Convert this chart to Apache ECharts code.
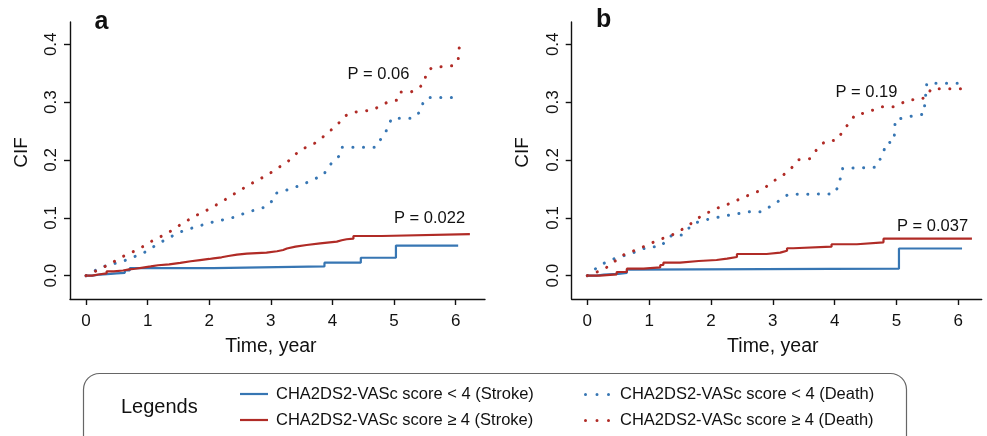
<!DOCTYPE html>
<html>
<head>
<meta charset="utf-8">
<script src="https://cdn.jsdelivr.net/npm/echarts@6/dist/echarts.min.js"></script>
<style>
html,body{margin:0;padding:0;background:#fff;}
#chart{width:987px;height:436px;}
</style>
</head>
<body>
<div id="chart"></div>
<script>
// ---------- data (time in years, CIF) ----------
const xTicks = [0, 1, 2, 3, 4, 5, 6];
const yTicks = [0, 0.1, 0.2, 0.3, 0.4];
const seriesNames = [
  'CHA2DS2-VASc score < 4 (Stroke)',
  'CHA2DS2-VASc score \u2265 4 (Stroke)',
  'CHA2DS2-VASc score < 4 (Death)',
  'CHA2DS2-VASc score \u2265 4 (Death)'
];
const panelLabels = ['a', 'b'];
const pStrokeLabels = ['P = 0.022', 'P = 0.037'];
const pDeathLabels = ['P = 0.06', 'P = 0.19'];

// Panel a
const tStrokeLowA = [0, 0.1, 0.23, 0.4, 0.5, 0.63, 0.71, 2.07, 3.87, 4.46, 5.03, 6.04];
const cStrokeLowA = [0, 0.002, 0.003, 0.004, 0.005, 0.009, 0.013, 0.016, 0.0225, 0.031, 0.052, 0.052];
const tStrokeHighA = [0, 0.1, 0.2, 0.335, 0.45, 0.6, 0.7, 0.8, 0.95, 1.05, 1.17, 1.35, 1.53, 1.7, 1.85, 2.0, 2.07, 2.2, 2.31, 2.45, 2.61, 2.93, 3.1, 3.2, 3.26, 3.4, 3.58, 3.8, 4.07, 4.15, 4.23, 4.34, 4.8, 6.23];
const cStrokeHighA = [0, 0.002, 0.004, 0.0076, 0.009, 0.011, 0.012, 0.0145, 0.016, 0.018, 0.0197, 0.022, 0.0249, 0.027, 0.0289, 0.030, 0.0318, 0.034, 0.0363, 0.038, 0.0398, 0.0422, 0.0444, 0.047, 0.0501, 0.053, 0.056, 0.0588, 0.0612, 0.063, 0.064, 0.0686, 0.072, 0.072];
const tDeathLowA = [0, 0.24, 0.61, 0.93, 1.2, 1.51, 1.77, 2.07, 2.37, 2.63, 2.92, 3.01, 3.07, 3.35, 3.62, 3.86, 3.92, 4.01, 4.11, 4.15, 4.70, 4.77, 4.85, 4.96, 5.30, 5.42, 5.48, 5.55, 5.95];
const cDeathLowA = [0, 0.0145, 0.0254, 0.039, 0.057, 0.075, 0.084, 0.093, 0.100, 0.110, 0.119, 0.128, 0.142, 0.151, 0.1625, 0.1746, 0.187, 0.197, 0.207, 0.222, 0.222, 0.234, 0.245, 0.272, 0.272, 0.283, 0.302, 0.308, 0.308];
const tDeathHighA = [0, 0.36, 0.595, 0.85, 1.08, 1.32, 1.55, 1.77, 2.01, 2.25, 2.48, 2.71, 2.95, 3.28, 3.47, 3.72, 3.92, 4.12, 4.19, 4.33, 4.65, 4.89, 5.04, 5.09, 5.27, 5.40, 5.49, 5.52, 5.61, 5.95, 6.04, 6.05, 6.09];
const cDeathHighA = [0, 0.0185, 0.0329, 0.0456, 0.0605, 0.0733, 0.0894, 0.1032, 0.1158, 0.1309, 0.1464, 0.1608, 0.1746, 0.1977, 0.2167, 0.2294, 0.246, 0.2657, 0.2755, 0.2824, 0.2864, 0.2997, 0.3032, 0.3175, 0.3175, 0.324, 0.3336, 0.349, 0.3596, 0.363, 0.3717, 0.3907, 0.4062];

// Panel b
const tStrokeLowB = [0, 0.15, 0.27, 0.5, 0.64, 0.68, 5.04, 6.06];
const cStrokeLowB = [0, 0.002, 0.003, 0.005, 0.0105, 0.0121, 0.047, 0.047];
const tStrokeHighB = [0, 0.205, 0.475, 0.64, 0.91, 1.18, 1.23, 1.5, 1.8, 2.09, 2.26, 2.42, 2.9, 3.12, 3.23, 3.33, 3.95, 4.36, 4.79, 6.22];
const cStrokeHighB = [0, 0.0024, 0.0064, 0.0121, 0.0145, 0.0185, 0.0225, 0.0254, 0.0271, 0.0294, 0.0323, 0.0375, 0.0398, 0.0432, 0.0474, 0.0501, 0.0543, 0.0577, 0.064, 0.064];
const tDeathLowB = [0, 0.205, 0.45, 0.72, 0.99, 1.18, 1.37, 1.53, 1.72, 2.01, 2.31, 2.63, 2.82, 3.04, 3.25, 3.98, 4.06, 4.13, 4.66, 4.79, 4.82, 4.96, 4.98, 5.28, 5.44, 5.46, 5.49, 6.03];
const cDeathLowB = [0, 0.0184, 0.030, 0.0386, 0.0501, 0.0501, 0.0703, 0.0703, 0.0905, 0.0991, 0.1049, 0.1106, 0.1106, 0.125, 0.1406, 0.1412, 0.1538, 0.1855, 0.1873, 0.2115, 0.2282, 0.2323, 0.2697, 0.2766, 0.279, 0.2985, 0.3326, 0.3326];
const tDeathHighB = [0, 0.27, 0.58, 0.85, 1.12, 1.37, 1.61, 1.81, 2.05, 2.31, 2.55, 2.82, 3.04, 3.25, 3.42, 3.6, 3.75, 3.86, 4.03, 4.18, 4.34, 4.5, 4.76, 4.95, 5.21, 5.38, 5.50, 5.56, 6.12];
const cDeathHighB = [0, 0.011, 0.0357, 0.0472, 0.0605, 0.0703, 0.0847, 0.1008, 0.1147, 0.125, 0.1366, 0.1481, 0.1654, 0.1798, 0.2005, 0.2023, 0.2237, 0.2328, 0.234, 0.2565, 0.279, 0.2812, 0.2922, 0.2922, 0.3042, 0.3037, 0.3111, 0.3233, 0.3233];

// ---------- styling ----------
const FONT = "'Liberation Sans', Arial, Helvetica, sans-serif";
const BLUE = '#3776b3';
const RED = '#b02b26';
const INK = '#111111';

const zip = (t, c) => t.map((v, i) => [v, c[i]]);

function makeX(gi, min, max) {
  return {
    type: 'value', gridIndex: gi, min: min, max: max,
    axisLine: { show: true, onZero: false, lineStyle: { color: INK, width: 1.4 } },
    axisTick: { show: true, length: 6, customValues: xTicks, lineStyle: { color: INK, width: 1.4 } },
    axisLabel: { customValues: xTicks, margin: 14, fontSize: 17, color: INK, fontFamily: FONT },
    splitLine: { show: false }
  };
}
function makeY(gi) {
  return {
    type: 'value', gridIndex: gi, min: -0.0403, max: 0.4385,
    axisLine: { show: true, onZero: false, lineStyle: { color: INK, width: 1.4 } },
    axisTick: { show: true, length: 6, customValues: yTicks, lineStyle: { color: INK, width: 1.4 } },
    axisLabel: { customValues: yTicks, rotate: 90, margin: 10, fontSize: 17, color: INK, fontFamily: FONT,
      formatter: v => v.toFixed(1) },
    splitLine: { show: false }
  };
}
function solid(name, gi, t, c, color) {
  return {
    name: name, type: 'line', xAxisIndex: gi, yAxisIndex: gi, step: 'end',
    data: zip(t, c), symbol: 'none', silent: true, animation: false,
    lineStyle: { color: color, width: 2.2 }, itemStyle: { color: color }
  };
}
function dotted(name, gi, t, c, color) {
  return {
    name: name, type: 'line', xAxisIndex: gi, yAxisIndex: gi,
    data: zip(t, c), symbol: 'none', silent: true, animation: false,
    lineStyle: { color: color, width: 3, type: [0.1, 10.5], cap: 'round' }, itemStyle: { color: color }
  };
}
function txt(text, x, y, size, opts) {
  return {
    type: 'text', x: x, y: y, silent: true,
    rotation: (opts && opts.rotation) || 0,
    style: Object.assign({ text: text, font: (opts && opts.weight ? opts.weight + ' ' : '') + size + 'px ' + FONT,
      fill: INK, textAlign: 'left', textVerticalAlign: 'middle' }, opts && opts.style || {})
  };
}

const DOTS_ICON = 'path://M0,1.5a1.5,1.5 0 1,0 3,0a1.5,1.5 0 1,0 -3,0Z' +
  'M11.5,1.5a1.5,1.5 0 1,0 3,0a1.5,1.5 0 1,0 -3,0Z' +
  'M23,1.5a1.5,1.5 0 1,0 3,0a1.5,1.5 0 1,0 -3,0Z';

function legendItem(name, left, top, isDotted, pad) {
  return {
    show: true, orient: 'horizontal', left: left, top: top, padding: 0,
    itemWidth: isDotted ? 26 : 28, itemHeight: isDotted ? 3 : 2.2,
    icon: isDotted ? DOTS_ICON : 'rect',
    data: [name], selectedMode: false,
    textStyle: { fontSize: 16.5, color: INK, fontFamily: FONT, lineHeight: 18, padding: [0, 0, 0, pad] }
  };
}

const chart = echarts.init(document.getElementById('chart'), null, { renderer: 'canvas' });
const option = {
  backgroundColor: '#ffffff',
  animation: false,
  grid: [
    { left: 70, top: 22, width: 415, height: 277, containLabel: false },
    { left: 571.7, top: 22, width: 410, height: 277, containLabel: false }
  ],
  xAxis: [makeX(0, -0.2597, 6.4755), makeX(1, -0.2523, 6.378)],
  yAxis: [makeY(0), makeY(1)],
  legend: [
    legendItem(seriesNames[0], 240, 385, false, 3),
    legendItem(seriesNames[1], 240, 411, false, 3),
    legendItem(seriesNames[2], 584, 385.5, true, 5),
    legendItem(seriesNames[3], 584, 411.5, true, 5)
  ],
  series: [
    solid(seriesNames[0], 0, tStrokeLowA, cStrokeLowA, BLUE),
    solid(seriesNames[1], 0, tStrokeHighA, cStrokeHighA, RED),
    dotted(seriesNames[2], 0, tDeathLowA, cDeathLowA, BLUE),
    dotted(seriesNames[3], 0, tDeathHighA, cDeathHighA, RED),
    solid(seriesNames[0], 1, tStrokeLowB, cStrokeLowB, BLUE),
    solid(seriesNames[1], 1, tStrokeHighB, cStrokeHighB, RED),
    dotted(seriesNames[2], 1, tDeathLowB, cDeathLowB, BLUE),
    dotted(seriesNames[3], 1, tDeathHighB, cDeathHighB, RED)
  ],
  graphic: [
    { type: 'rect', shape: { x: 83.5, y: 373.5, width: 823, height: 90, r: 16 }, silent: true,
      style: { fill: 'none', stroke: '#666666', lineWidth: 1.2 } },
    txt('Legends', 121, 407, 20),
    txt(panelLabels[0], 94.5, 22, 25, { weight: 'bold' }),
    txt(panelLabels[1], 596, 20, 25, { weight: 'bold' }),
    txt('Time, year', 270.9, 346.5, 19.5, { style: { textAlign: 'center' } }),
    txt('Time, year', 772.8, 346.5, 19.5, { style: { textAlign: 'center' } }),
    txt('CIF', 21.7, 152.5, 19, { rotation: Math.PI / 2, style: { textAlign: 'center' } }),
    txt('CIF', 522.3, 152.5, 19, { rotation: Math.PI / 2, style: { textAlign: 'center' } }),
    txt(pDeathLabels[0], 347.5, 74, 16.5),
    txt(pStrokeLabels[0], 394, 218.5, 16.5),
    txt(pDeathLabels[1], 835.5, 92, 16.5),
    txt(pStrokeLabels[1], 897, 226, 16.5)
  ]
};
chart.setOption(option);
</script>
</body>
</html>
